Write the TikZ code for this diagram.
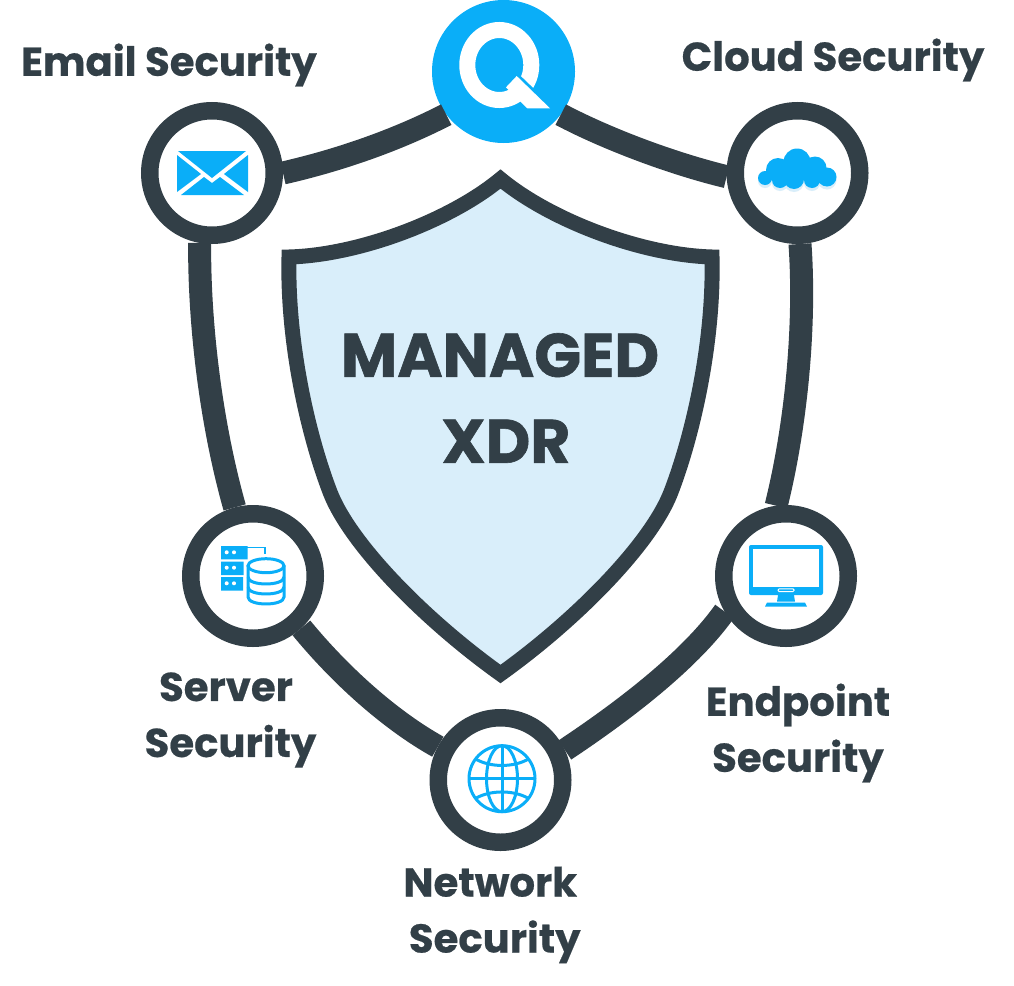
\documentclass[tikz,border=0pt]{standalone}
\usepackage{fontspec}
\setmainfont{Poppins}
\usetikzlibrary{calc}
\definecolor{slate}{HTML}{323F47}
\definecolor{qblue}{HTML}{0AAEF8}
\definecolor{paleblue}{HTML}{D9EEFA}
\tikzset{
	ring/.style={circle, draw=slate, line width=17.5pt, fill=white, minimum size=124.5pt, inner sep=0pt},
	link/.style={draw=slate, line width=23pt},
	caption/.style={text=slate, font=\fontsize{40.2}{56}\selectfont\bfseries\addfontfeatures{FakeBold=0.5}, align=center},
	glyph/.style={fill=qblue, draw=none},
	wire/.style={draw=qblue, line width=3pt}
}
\begin{document}
\begin{tikzpicture}[x=1pt, y=-1pt]
		\useasboundingbox (0, 0) rectangle (1014, 985);
		
		%%%%% SHIELD %%%%%
		\draw[draw=slate, fill=paleblue, line width=15pt, line join=miter] (500.5, 179)
			.. controls (550, 220) and (641, 255) .. (712, 257)
			.. controls (714, 340) and (694, 432) .. (671, 492)
			.. controls (651, 544) and (576, 620) .. (500.5, 674)
			.. controls (425, 620) and (350, 544) .. (330, 492)
			.. controls (307, 432) and (287, 340) .. (289, 257)
			.. controls (360, 255) and (451, 220) .. (500.5, 179) -- cycle;
		\node[text=slate, font=\fontsize{61.5}{86}\selectfont\bfseries\addfontfeatures{FakeBold=1}, align=center] (title) at (500, 398) {MANAGED\\\hspace*{12pt}XDR};
		
		%%%%% NODES %%%%%
		\node[circle, fill=qblue, minimum size=143pt, inner sep=0pt] (scan) at (503.5, 71.5) {};
		\node[ring] (email) at (212, 173) {};
		\node[ring] (cloud) at (797.5, 173) {};
		\node[ring] (server) at (253, 576) {};
		\node[ring] (endpoint) at (786, 576) {};
		\node[ring] (network) at (500.5, 780) {};
		
		%%%%% CONNECTORS %%%%%
		\draw[link] (email.0) .. controls (340, 160) and (397, 140) .. (scan.217.6);
		\draw[link] (cloud.183) .. controls (670, 163) and (605, 138) .. (scan.-37.8);
		\draw[link] (email.-100) .. controls (199, 320) and (210, 420) .. (server.105.6);
		\draw[link] (cloud.-88) .. controls (806, 330) and (795, 430) .. (endpoint.98);
		\draw[link] (server.-47) .. controls (340, 675) and (390, 720) .. (network.152);
		\draw[link] (endpoint.-150.5) .. controls (690, 660) and (625, 710) .. (network.25);
		
		%%%%% ICONS %%%%%
		% Q
		\draw[draw=white, line width=16pt] (499.3, 65) ellipse (32 and 35);
		\draw[draw=qblue, line width=3.5pt] (515, 73) -- (541, 98);
		\fill[white] (516.7, 76) -- (550, 108.3) -- (527.3, 108.3) -- (506, 87.3) -- cycle;
		% envelope
		\fill[glyph] (178, 151) -- (246, 151) -- (212, 178) -- cycle;
		\fill[glyph] (177, 155) -- (201, 174) -- (177, 192) -- cycle;
		\fill[glyph] (248, 155) -- (224, 174) -- (248, 192) -- cycle;
		\fill[glyph] (181, 195) -- (204, 177) -- (212, 183) -- (220, 177) -- (244, 195) -- cycle;
		% cloud
		\begin{scope}[yshift=-3pt]
			\fill[paleblue] (765, 178) circle (7) (780, 180) circle (8) (794, 179) circle (10)
				(812, 180) circle (8) (827, 177) circle (9.5);
		\end{scope}
		\fill[glyph] (767, 168) rectangle (827, 180);
		\fill[glyph] (765, 178) circle (7) (778, 170) circle (12) (797, 162) circle (13.5)
			(815, 168) circle (11.5) (827, 177) circle (9.5) (780, 180) circle (8)
			(794, 179) circle (10) (812, 180) circle (8);
		% server and database
		\fill[glyph] (221, 546) rectangle (247.5, 559.3) (221, 561.7) rectangle (243.5, 575) (221, 577) rectangle (243, 590.7);
		\fill[white] (226.7, 552.3) circle (2) (234, 552.3) circle (2) (226.7, 567.7) circle (2) (234, 567.7) circle (2) (226.7, 583.3) circle (2) (234, 583.3) circle (2);
		\draw[wire, line width=1.5pt] (247, 547.3) -- (265, 547.3) -- (265, 554);
		\fill[white] (266, 565.7) ellipse (18 and 7);
		\fill[white] (248, 566) rectangle (284, 598);
		\draw[wire] (266, 565.7) ellipse (18 and 7);
		\draw[wire] (248, 565.7) -- (248, 597) .. controls (248, 606.3) and (284, 606.3) .. (284, 597) -- (284, 565.7);
		\draw[wire] (248, 577) .. controls (248, 586.3) and (284, 586.3) .. (284, 577);
		\draw[wire] (248, 587) .. controls (248, 596.3) and (284, 596.3) .. (284, 587);
		% monitor
		\fill[glyph, rounded corners=2pt] (749, 545) rectangle (823, 595);
		\fill[white] (752.7, 549) rectangle (819.3, 587);
		\draw[draw=white, line width=1pt, rounded corners=1pt] (778.2, 588.8) rectangle (794, 591.5);
		\fill[glyph] (778, 595) -- (794, 595) -- (795, 601.7) -- (777, 601.7) -- cycle;
		\fill[glyph] (765, 606.7) -- (767, 602.7) -- (805, 602.7) -- (807, 606.7) -- cycle;
		% globe
		\begin{scope}[shift={(502, 778.7)}]
			\draw[wire] (0, 0) circle (33);
			\draw[wire] (0, 0) ellipse (15.5 and 33);
			\draw[wire] (0, -33) -- (0, 33) (-33, 0) -- (33, 0);
			\draw[wire] (-27, -20) .. controls (-12, -11) and (12, -11) .. (27, -20);
			\draw[wire] (-27, 20) .. controls (-12, 11) and (12, 11) .. (27, 20);
		\end{scope}
		
		%%%%% LABELS %%%%%
		\node[caption] (emaillabel) at (169, 65) {Email Security};
		\node[caption] (cloudlabel) at (833, 60) {Cloud Security};
		\node[caption] (serverlabel) at (228.5, 720) {Server\hspace*{5pt}\\\hspace*{4pt}Security};
		\node[caption] (endpointlabel) at (798, 733) {Endpoint\\Security};
		\node[caption] (networklabel) at (492.5, 915) {Network\hspace*{4.5pt}\\\hspace*{4.5pt}Security};
	\end{tikzpicture}
\end{document}
